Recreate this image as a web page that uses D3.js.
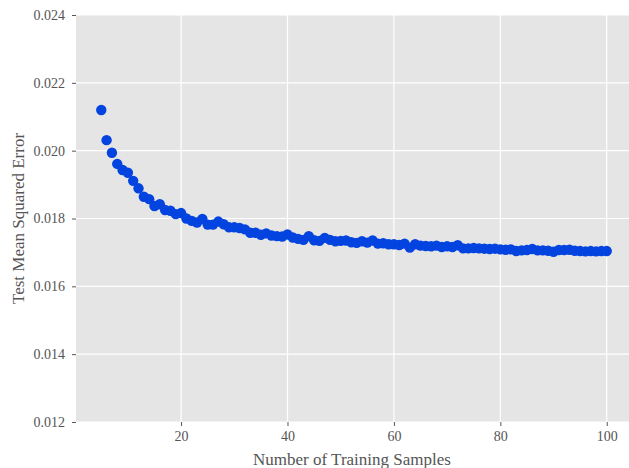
<!DOCTYPE html>
<html>
<head>
<meta charset="utf-8">
<script src="https://cdnjs.cloudflare.com/ajax/libs/d3/7.8.5/d3.min.js"></script>
<style>
  body { margin: 0; background: #fff; }
  svg text { font-family: "Liberation Serif", "DejaVu Serif", serif; fill: #555; }
</style>
</head>
<body>
<svg id="chart" width="629" height="468"></svg>
<script>
// training set sizes and the test MSE
var samples = d3.range(5, 101);
var mse = [
  0.02120, 0.02031, 0.01994, 0.01961, 0.01943, 0.01935, 0.01911, 0.01889, 0.01864, 0.01857,
  0.01837, 0.01842, 0.01825, 0.01823, 0.01813, 0.01816, 0.01800, 0.01793, 0.01788, 0.01799,
  0.01782, 0.01782, 0.01791, 0.01783, 0.01774, 0.01774, 0.01772, 0.01768, 0.01758, 0.01758,
  0.01752, 0.01756, 0.01750, 0.01748, 0.01747, 0.01753, 0.01744, 0.01740, 0.01737, 0.01748,
  0.01736, 0.01734, 0.01743, 0.01737, 0.01733, 0.01734, 0.01735, 0.01730, 0.01728, 0.01733,
  0.01729, 0.01735, 0.01726, 0.01727, 0.01724, 0.01724, 0.01722, 0.01726, 0.01714, 0.01724,
  0.01720, 0.01719, 0.01718, 0.01720, 0.01716, 0.01718, 0.01716, 0.01721, 0.01712, 0.01712,
  0.01713, 0.01712, 0.01711, 0.01710, 0.01711, 0.01709, 0.01708, 0.01709, 0.01704, 0.01706,
  0.01707, 0.01710, 0.01706, 0.01706, 0.01705, 0.01702, 0.01707, 0.01707, 0.01708, 0.01705,
  0.01704, 0.01703, 0.01704, 0.01703, 0.01704, 0.01704
];
var xTicks = [20, 40, 60, 80, 100];
var yTicks = [0.012, 0.014, 0.016, 0.018, 0.020, 0.022, 0.024];

var plotL = 76, plotT = 15, plotR = 632, plotB = 422;

var svg = d3.select("#chart");

var x = d3.scaleLinear().domain([0.25, 104.75]).range([plotL, plotR]);
var y = d3.scaleLinear().domain([0.012, 0.024]).range([plotB, plotT]);

svg.append("rect")
  .attr("x", plotL).attr("y", plotT)
  .attr("width", plotR - plotL).attr("height", plotB - plotT)
  .attr("fill", "#e5e5e5");

// grid
svg.append("g").selectAll("line").data(xTicks).join("line")
  .attr("x1", function (d) { return x(d); }).attr("x2", function (d) { return x(d); })
  .attr("y1", plotT).attr("y2", plotB)
  .attr("stroke", "#fff").attr("stroke-width", 1.2);
svg.append("g").selectAll("line").data(yTicks).join("line")
  .attr("x1", plotL).attr("x2", plotR)
  .attr("y1", function (d) { return y(d); }).attr("y2", function (d) { return y(d); })
  .attr("stroke", "#fff").attr("stroke-width", 1.2);

// axes
var xAxis = svg.append("g")
  .attr("transform", "translate(0," + plotB + ")")
  .call(d3.axisBottom(x).tickValues(xTicks).tickSize(4).tickPadding(5).tickFormat(d3.format("d")));
var yAxis = svg.append("g")
  .attr("transform", "translate(" + plotL + ",0)")
  .call(d3.axisLeft(y).tickValues(yTicks).tickSize(4).tickPadding(7).tickFormat(d3.format(".3f")));

[xAxis, yAxis].forEach(function (g) {
  g.select(".domain").remove();
  g.selectAll(".tick line").attr("stroke", "#555");
  g.selectAll(".tick text")
    .style("font-family", '"Liberation Serif", serif')
    .style("font-size", "14px")
    .attr("fill", "#555");
});

// points
svg.append("g").selectAll("circle").data(samples).join("circle")
  .attr("cx", function (d) { return x(d); })
  .attr("cy", function (d, i) { return y(mse[i]); })
  .attr("r", 5.2)
  .attr("fill", "#0343df");

// labels
svg.append("text")
  .attr("x", (plotL + plotR) / 2 - 2).attr("y", 465)
  .attr("text-anchor", "middle")
  .style("font-size", "17px")
  .text("Number of Training Samples");

svg.append("text")
  .attr("transform", "translate(24," + ((plotT + plotB) / 2) + ") rotate(-90)")
  .attr("text-anchor", "middle")
  .style("font-size", "17px")
  .text("Test Mean Squared Error");
</script>
</body>
</html>
